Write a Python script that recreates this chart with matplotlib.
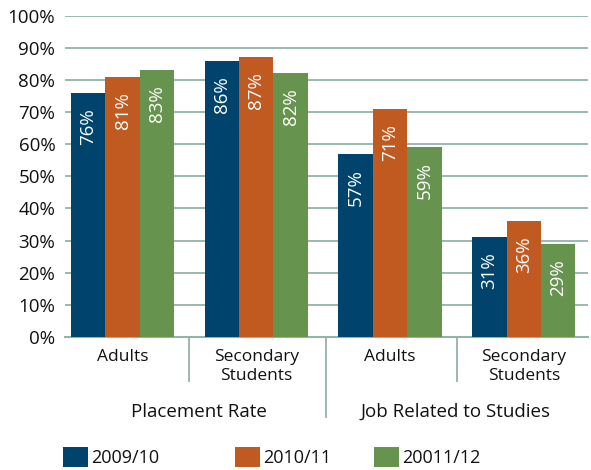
import numpy as np
import matplotlib.pyplot as plt
import matplotlib.transforms as mtransforms

plt.rcParams['font.family'] = ['Open Sans', 'DejaVu Sans']

groups = ["Placement Rate", "Job Related to Studies"]
categories = ["Adults", "Secondary\nStudents", "Adults", "Secondary\nStudents"]
years = ["2009/10", "2010/11", "20011/12"]
values = {
    "2009/10": [76, 86, 57, 31],
    "2010/11": [81, 87, 71, 36],
    "20011/12": [83, 82, 59, 29],
}
colors = ["#00446e", "#c05a21", "#66944e"]
grid_color = "#93b3a8"
text_color = "#111111"

fig = plt.figure(figsize=(5.91, 4.70), dpi=100)
ax = fig.add_axes([0.110, 0.283, 0.885, 0.684])

x = np.arange(len(categories))
width = 0.257
bars = []
for i, yr in enumerate(years):
    b = ax.bar(x + (i - 1) * width, values[yr], width, color=colors[i], zorder=3)
    bars.append(b)
    for rect, v in zip(b, values[yr]):
        ax.annotate(f"{v}%", (rect.get_x() + rect.get_width() / 2, v),
                    xytext=(0, -11), textcoords="offset points",
                    rotation=90, ha="center", va="top",
                    color="white", fontsize=13.5, zorder=4)

ax.set_ylim(0, 100)
ax.set_xlim(-0.43, 3.48)
ax.set_yticks(range(0, 101, 10))
ax.set_yticklabels([f"{t}%" for t in range(0, 101, 10)], fontsize=13.5, color=text_color)
ax.set_xticks(x)
ax.set_xticklabels(categories, fontsize=12.5, color=text_color, linespacing=1.2)
ax.tick_params(axis="both", length=0)
ax.tick_params(axis="y", pad=7)
ax.tick_params(axis="x", pad=9)
ax.yaxis.grid(True, color=grid_color, linewidth=1.3)
ax.set_axisbelow(True)
for s in ["top", "right", "left"]:
    ax.spines[s].set_visible(False)
ax.spines["bottom"].set_color(grid_color)
ax.spines["bottom"].set_linewidth(1.5)

# separators between categories and between the two groups
trans = mtransforms.blended_transform_factory(ax.transData, ax.transAxes)
for xs, bottom in [(0.5, -0.137), (1.52, -0.249), (2.5, -0.137)]:
    ax.plot([xs, xs], [0, bottom], color=grid_color, linewidth=1.3,
            transform=trans, clip_on=False)

for xg, name in zip([0.57, 2.49], groups):
    ax.text(xg, -0.233, name, transform=trans, ha="center", va="center",
            fontsize=13.5, color=text_color)

# one legend entry per year, placed along the bottom
for b, yr, xpos in zip(bars, years, [63, 235, 374]):
    fig.legend([b], [yr], loc="center left",
               bbox_to_anchor=(xpos / 591, 1 - 457 / 470),
               frameon=False, borderpad=0, borderaxespad=0,
               handlelength=1.38, handleheight=1.38, handletextpad=0.2,
               prop={"size": 13}, labelcolor=text_color)

fig.savefig("out.png", dpi=100)
